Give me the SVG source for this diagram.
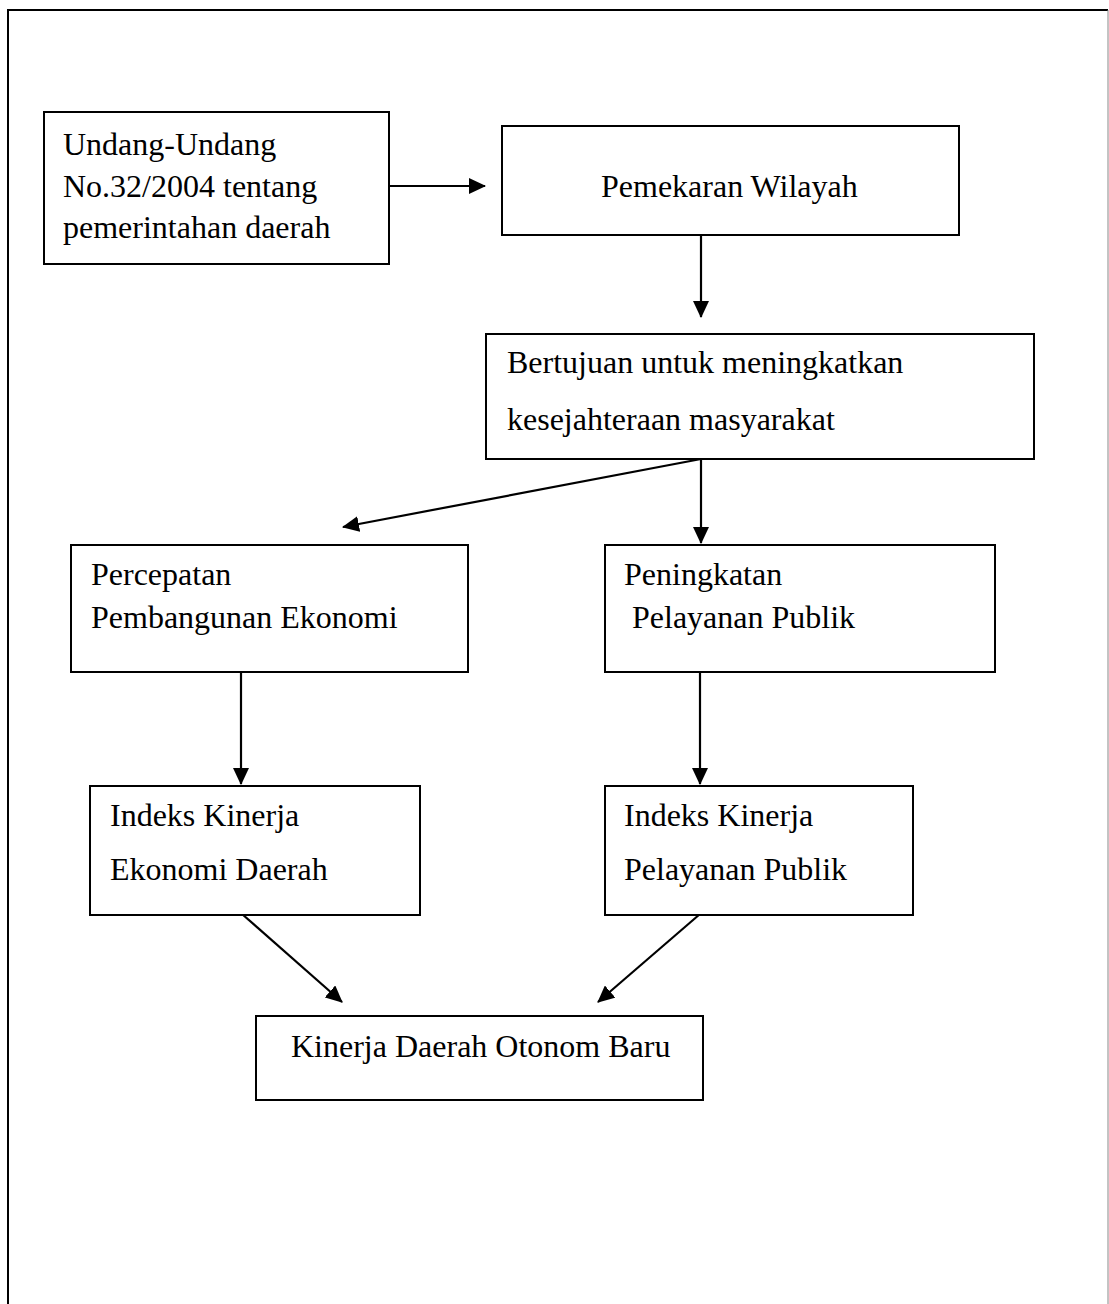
<svg xmlns="http://www.w3.org/2000/svg" width="1109" height="1304" viewBox="0 0 1109 1304">
<style>
.box{fill:#fff;stroke:#000;stroke-width:2}
text{font-family:'Liberation Serif','Times New Roman',Times,serif;font-size:32px;fill:#000}
.c{stroke:#000;stroke-width:2.2;fill:none;marker-end:url(#ah)}
</style>
<defs>
<marker id="ah" markerUnits="userSpaceOnUse" markerWidth="17" markerHeight="16" viewBox="0 0 17 16" refX="16" refY="8" orient="auto">
<path d="M0,0 L17,8 L0,16 Z" fill="#000"/>
</marker>
</defs>
<rect width="1109" height="1304" fill="#fff"/>
<g id="frame">
<path d="M8,1304 L8,10 L1108,10" stroke="#000" stroke-width="2" fill="none"/>
<line x1="1108" y1="10" x2="1108" y2="1304" stroke="#888" stroke-width="1"/>
</g>
<g id="connectors">
<line class="c" x1="389" y1="186" x2="485" y2="186"/>
<line class="c" x1="701" y1="235" x2="701" y2="317"/>
<line class="c" x1="701" y1="459" x2="343" y2="527"/>
<line class="c" x1="701" y1="459" x2="701" y2="543"/>
<line class="c" x1="241" y1="672" x2="241" y2="784"/>
<line class="c" x1="700" y1="672" x2="700" y2="784"/>
<line class="c" x1="242" y1="914" x2="342" y2="1002"/>
<line class="c" x1="700" y1="914" x2="598" y2="1002"/>
</g>
<g id="n-undang">
<rect class="box" x="44" y="112" width="345" height="152"/>
<text x="63" y="155">Undang-Undang</text>
<text x="63" y="197">No.32/2004 tentang</text>
<text x="63" y="238">pemerintahan daerah</text>
</g>
<g id="n-pemekaran">
<rect class="box" x="502" y="126" width="457" height="109"/>
<text x="601" y="197">Pemekaran Wilayah</text>
</g>
<g id="n-bertujuan">
<rect class="box" x="486" y="334" width="548" height="125"/>
<text x="507" y="373">Bertujuan untuk meningkatkan</text>
<text x="507" y="430">kesejahteraan masyarakat</text>
</g>
<g id="n-percepatan">
<rect class="box" x="71" y="545" width="397" height="127"/>
<text x="91" y="585">Percepatan</text>
<text x="91" y="628">Pembangunan Ekonomi</text>
</g>
<g id="n-peningkatan">
<rect class="box" x="605" y="545" width="390" height="127"/>
<text x="624" y="585">Peningkatan</text>
<text x="632" y="628">Pelayanan Publik</text>
</g>
<g id="n-indeks-ekonomi">
<rect class="box" x="90" y="786" width="330" height="129"/>
<text x="110" y="826">Indeks Kinerja</text>
<text x="110" y="880">Ekonomi Daerah</text>
</g>
<g id="n-indeks-pelayanan">
<rect class="box" x="605" y="786" width="308" height="129"/>
<text x="624" y="826">Indeks Kinerja</text>
<text x="624" y="880">Pelayanan Publik</text>
</g>
<g id="n-kinerja">
<rect class="box" x="256" y="1016" width="447" height="84"/>
<text x="291" y="1057">Kinerja Daerah Otonom Baru</text>
</g>
</svg>
